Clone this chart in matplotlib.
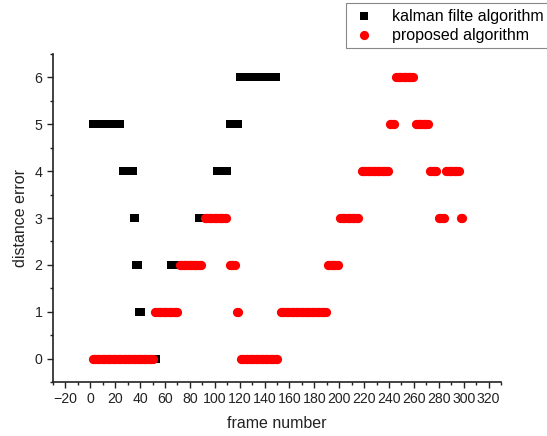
import numpy as np
import matplotlib
matplotlib.use("Agg")
import matplotlib.pyplot as plt
from matplotlib.ticker import MultipleLocator

plt.rcParams['font.family'] = ['Liberation Sans', 'DejaVu Sans']

# Runs of consecutive frames: (first frame, last frame, distance error)
kalman_start = [2, 26, 35, 37, 39, 42, 54, 65, 87, 102, 112, 120]
kalman_end   = [24, 34, 36, 38, 41, 53, 64, 86, 101, 110, 119, 149]
kalman_error = [5, 4, 3, 2, 1, 0, 1, 2, 3, 4, 5, 6]

proposed_start = [2, 52, 72, 92, 112, 118, 121, 153, 191, 201, 218, 241, 246, 262, 273, 280, 286, 298]
proposed_end   = [50, 70, 89, 109, 116, 119, 150, 189, 199, 215, 239, 244, 259, 271, 278, 284, 296, 299]
proposed_error = [0, 1, 2, 3, 2, 1, 0, 1, 2, 3, 4, 5, 6, 5, 4, 3, 4, 3]

x_ticks = list(range(-20, 321, 20))
y_ticks = [0, 1, 2, 3, 4, 5, 6]


def expand(starts, ends, vals):
    fr, ev = [], []
    for s, e, v in zip(starts, ends, vals):
        for f in range(s, e + 1):
            fr.append(f)
            ev.append(v)
    return np.array(fr), np.array(ev)


kf, ke = expand(kalman_start, kalman_end, kalman_error)
pf, pe = expand(proposed_start, proposed_end, proposed_error)

fig = plt.figure(figsize=(5.47, 4.36), dpi=100)
ax = fig.add_axes([53 / 547, 1 - 382 / 436, (501 - 53) / 547, (382 - 54) / 436])

ax.scatter(kf, ke, marker='s', s=30, color='black', linewidths=0,
           label='kalman filte algorithm', zorder=2)
ax.scatter(pf, pe, marker='o', s=44, color='#ff0000', linewidths=0,
           label='proposed algorithm', zorder=3)

ax.set_xlim(-30, 330)
ax.set_ylim(-0.5, 6.5)
ax.set_xticks(x_ticks)
ax.set_yticks(y_ticks)
ax.xaxis.set_minor_locator(MultipleLocator(10))
ax.yaxis.set_minor_locator(MultipleLocator(0.5))

for s in ['top', 'right']:
    ax.spines[s].set_visible(False)
for s in ['left', 'bottom']:
    ax.spines[s].set_linewidth(1.2)
    ax.spines[s].set_color('#222222')

ax.tick_params(which='major', direction='out', length=4.5, width=1.0, colors='#222222',
               labelsize=10.2, labelcolor='#222222', pad=3)
ax.tick_params(which='minor', direction='out', length=2.5, width=1.0, colors='#222222')

ax.set_xlabel('frame number', fontsize=11.5, color='#222222', labelpad=7)
ax.set_ylabel('distance error', fontsize=11.5, color='#222222', labelpad=5)

leg = fig.legend(loc='upper left', bbox_to_anchor=(346 / 547, 1 - 3 / 436),
                 bbox_transform=fig.transFigure, fontsize=11.5, frameon=True,
                 fancybox=False, edgecolor='#888888', framealpha=1,
                 borderpad=0.35, borderaxespad=0, handletextpad=0.9,
                 labelspacing=0.25, markerscale=1.0, handlelength=1.6)
leg.get_frame().set_linewidth(0.8)

fig.savefig('out.png', dpi=100)
